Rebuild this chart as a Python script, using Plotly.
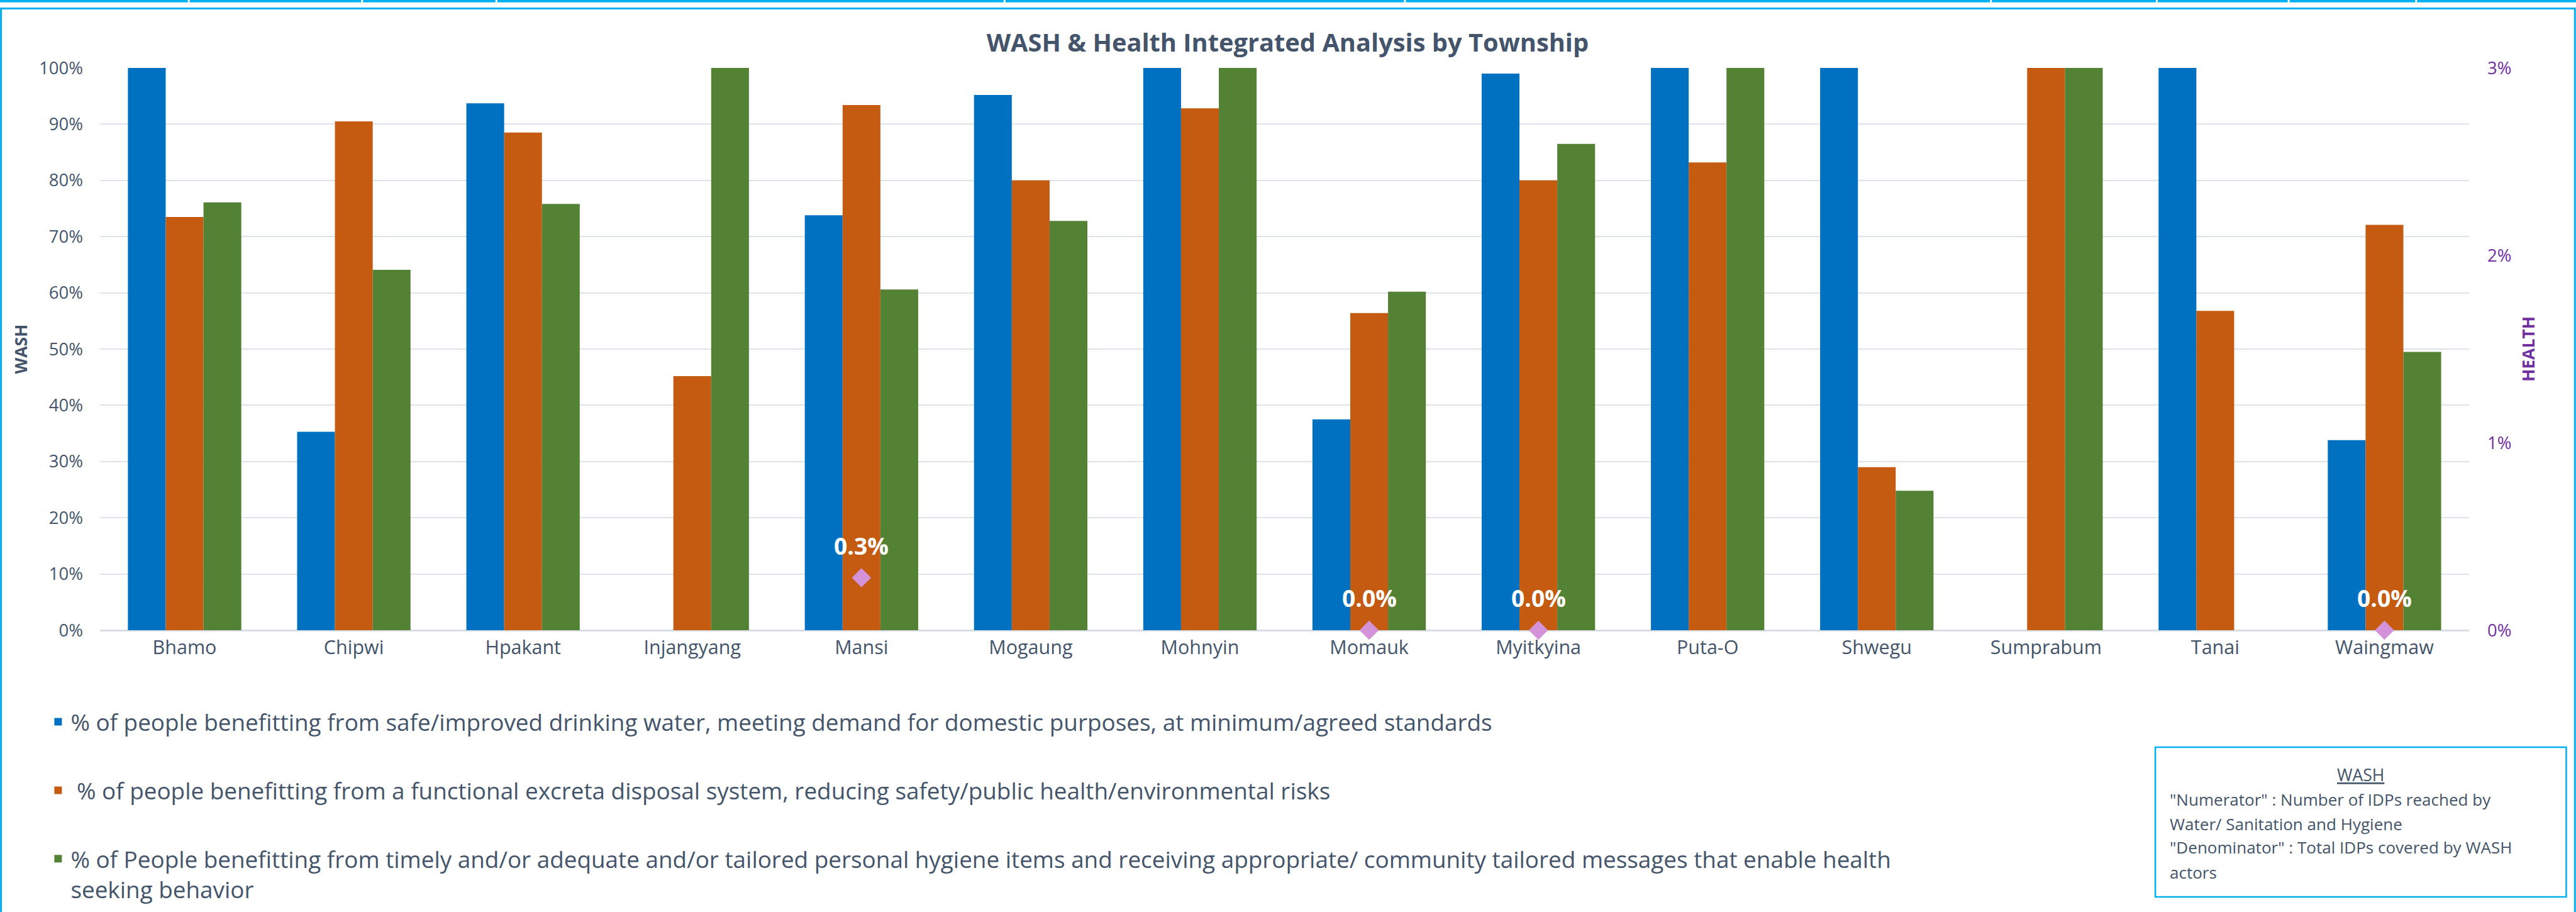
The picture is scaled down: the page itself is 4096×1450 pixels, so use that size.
import plotly.graph_objects as go

# ---------------- data ----------------
townships = ["Bhamo", "Chipwi", "Hpakant", "Injangyang", "Mansi", "Mogaung", "Mohnyin",
             "Momauk", "Myitkyina", "Puta-O", "Shwegu", "Sumprabum", "Tanai", "Waingmaw"]
water = [1.00, 0.353, 0.937, None, 0.738, 0.952, 1.00, 0.375, 0.990, 1.00, 1.00, None, 1.00, 0.338]
sanitation = [0.735, 0.905, 0.885, 0.452, 0.934, 0.800, 0.928, 0.564, 0.800, 0.832, 0.290, 1.00, 0.568, 0.721]
hygiene = [0.761, 0.641, 0.758, 1.00, 0.606, 0.728, 1.00, 0.602, 0.865, 1.00, 0.248, 1.00, None, 0.495]
health = [None, None, None, None, 0.0028, None, None, 0.0, 0.0, None, None, None, None, 0.0]

series_names = [
    "% of people benefitting from safe/improved drinking water, meeting demand for domestic purposes, at minimum/agreed standards",
    "\u00a0% of people benefitting from a functional excreta disposal system, reducing safety/public health/environmental risks",
    "% of People benefitting from timely and/or adequate and/or tailored personal hygiene items and receiving appropriate/ community tailored messages that enable health<br>seeking behavior",
]
health_name = "HEALTH"
title_text = "WASH & Health Integrated Analysis by Township"
note_title = "WASH"
note_lines = ['"Numerator" : Number of IDPs reached by',
              "Water/ Sanitation and Hygiene",
              '"Denominator" : Total IDPs covered by WASH',
              "actors"]

# ---------------- geometry helpers (reference pixels -> paper) ----------------
W, H = 4096, 1450
RW, RH = 4163, 1474
SX, SY = W / RW, H / RH
S = 0.983
PL, PR, PT, PB = 162, 3990, 110, 1019  # plot area in reference px


def px(X):
    return (X - PL) / (PR - PL)


def py(Y):
    return (PB - Y) / (PB - PT)


FONT = "Open Sans"
SLATE = "#44546A"
PURPLE = "#7030A0"
CYAN = "#00B0F0"
GRID = "#DEE3EA"
colors = ["#0070C0", "#C55A11", "#548235"]

fig = go.Figure()
for i, (vals, name, col) in enumerate(zip([water, sanitation, hygiene], series_names, colors)):
    fig.add_trace(go.Bar(x=townships, y=vals, name=name, marker=dict(color=col, line=dict(width=0)),
                         legendgroup="g%d" % i, yaxis="y"))

fig.add_trace(go.Scatter(x=townships, y=health, mode="markers", name=health_name, yaxis="y2",
                         marker=dict(symbol="diamond", size=31 * S / 1.3, color="#D493D8"),
                         cliponaxis=False, showlegend=False))

annotations = []
for t, v in zip(townships, health):
    if v is None:
        continue
    annotations.append(dict(x=t, y=v, xref="x", yref="y2", text="<b>%.1f%%</b>" % (v * 100),
                            showarrow=False, yshift=52 * SY,
                            font=dict(family=FONT, size=38 * S, color="white")))

annotations.append(dict(x=px(3815), y=py(1253), xref="paper", yref="paper", text="<u>%s</u>" % note_title,
                        showarrow=False, xanchor="center", yanchor="middle",
                        font=dict(family=FONT, size=27 * S, color=SLATE)))
for k, (line, yy) in enumerate(zip(note_lines, [1293, 1332, 1370, 1410])):
    annotations.append(dict(x=px(3504), y=py(yy), xref="paper", yref="paper", text=line,
                            showarrow=False, xanchor="left", yanchor="middle",
                            font=dict(family=FONT, size=26.5 * S, color=SLATE)))

shapes = [
    dict(type="rect", xref="paper", yref="paper", x0=px(2), x1=px(4161), y0=py(1530), y1=py(14),
         line=dict(color=CYAN, width=3), layer="above"),
    dict(type="rect", xref="paper", yref="paper", x0=px(3483), x1=px(4147), y0=py(1450), y1=py(1208),
         line=dict(color=CYAN, width=2.5)),
]
seg_edges = [(0, 304), (307, 584), (587, 801), (804, 1622), (1625, 2269), (2272, 3216),
             (3219, 3484), (3487, 3697), (3700, 3903), (3906, 4163)]
for a, b in seg_edges:
    shapes.append(dict(type="rect", xref="paper", yref="paper", x0=px(a), x1=px(b), y0=py(4), y1=py(0),
                       fillcolor=CYAN, line=dict(width=0)))

fig.update_layout(
    width=W, height=H,
    margin=dict(l=PL * SX, r=W - PR * SX, t=PT * SY, b=H - PB * SY, autoexpand=False),
    paper_bgcolor="white", plot_bgcolor="white",
    barmode="group", bargap=0.33, bargroupgap=0,
    title=dict(text="<b>%s</b>" % title_text, x=px(2081), xref="paper", xanchor="center",
               y=1 - 69 / RH, yref="container", yanchor="middle",
               font=dict(family=FONT, size=40.5 * S, color=SLATE)),
    font=dict(family=FONT, color=SLATE),
    xaxis=dict(range=[-0.5, len(townships) - 0.5], showgrid=False, zeroline=False, showline=False, ticks="",
               tickfont=dict(family=FONT, size=31 * S, color=SLATE), ticklabelstandoff=7),
    yaxis=dict(range=[0, 1], dtick=0.1, tickformat=".0%", showgrid=True, gridcolor=GRID, gridwidth=2,
               zeroline=True, zerolinecolor="#D9DEE5", zerolinewidth=3, showline=False, ticks="",
               tickfont=dict(family=FONT, size=28 * S, color=SLATE), ticklabelstandoff=26,
               title=dict(text="<b>WASH</b>", font=dict(family=FONT, size=27 * S, color=SLATE), standoff=10)),
    yaxis2=dict(range=[0, 0.03], dtick=0.01, tickformat=".0%", overlaying="y", side="right",
                showgrid=False, zeroline=False, showline=False, ticks="",
                tickfont=dict(family=FONT, size=28 * S, color=PURPLE), ticklabelstandoff=28,
                title=dict(text="<b>HEALTH</b>", font=dict(family=FONT, size=27 * S, color=PURPLE), standoff=18)),
    legend=dict(x=px(74), xanchor="left", y=py(1136), yanchor="top", orientation="v",
                font=dict(family=FONT, size=37.5 * S, color=SLATE), tracegroupgap=58,
                bgcolor="rgba(0,0,0,0)", valign="top", traceorder="grouped"),
    annotations=annotations,
    shapes=shapes,
)

fig.write_html("out.html", config={"displayModeBar": False},
               post_script="document.body.style.margin='0';document.body.style.overflow='hidden';")
